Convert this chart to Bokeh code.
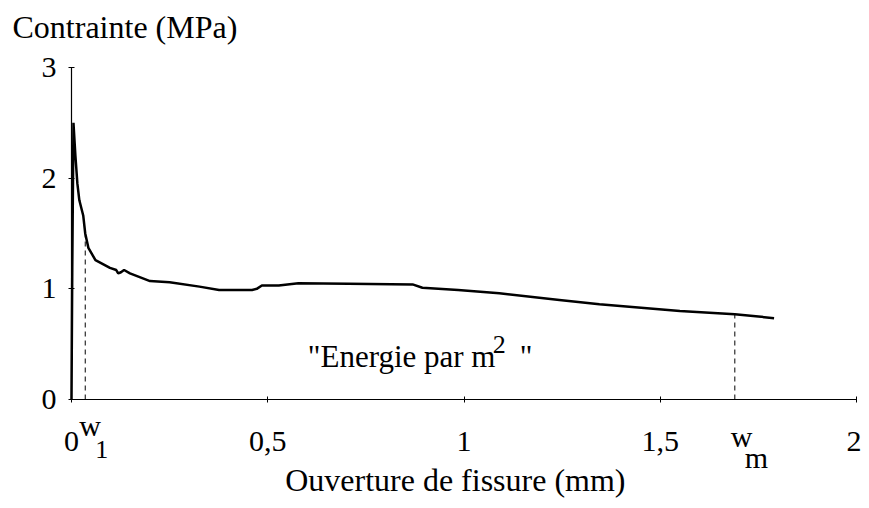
from bokeh.plotting import figure
from bokeh.models import Label, FixedTicker, Range1d
from bokeh.embed import file_html
from bokeh.resources import INLINE

# ---- data ----
ouverture_mm = [0.0, 0.002, 0.005, 0.010, 0.015, 0.020, 0.030, 0.035, 0.043, 0.061,
                0.098, 0.114, 0.119, 0.126, 0.134, 0.149, 0.200, 0.250, 0.326, 0.376,
                0.460, 0.472, 0.485, 0.528, 0.578, 0.705, 0.869, 0.894, 0.985, 1.090,
                1.243, 1.345, 1.550, 1.690, 1.750, 1.790]
contrainte_mpa = [0.0, 1.20, 2.50, 2.20, 1.95, 1.80, 1.66, 1.50, 1.37, 1.26,
                  1.19, 1.17, 1.14, 1.15, 1.17, 1.14, 1.07, 1.06, 1.02, 0.99,
                  0.99, 1.00, 1.03, 1.03, 1.05, 1.045, 1.04, 1.01, 0.99, 0.96,
                  0.90, 0.86, 0.80, 0.77, 0.75, 0.735]

w_marks = [0.035, 1.69]          # w1, wm
w_tops = [1.50, 0.77]
w_names = ["w", "w"]
w_subs = ["1", "m"]

x_ticks = [0, 0.5, 1, 1.5, 2]
x_tick_labels = ["0", "0,5", "1", "1,5", "2"]
y_ticks = [0, 1, 2, 3]
y_tick_labels = ["0", "1", "2", "3"]

FONT = "Liberation Serif"
W, H = 861, 500
# pixel placement of the axes inside the canvas
X0_PX, X2_PX = 71, 856
Y0_PX, Y3_PX = 399, 67
sx = (X2_PX - X0_PX) / 2.0
sy = (Y0_PX - Y3_PX) / 3.0

p = figure(width=W, height=H, output_backend="svg", toolbar_location=None,
           x_range=Range1d(-X0_PX / sx, (W - X0_PX) / sx),
           y_range=Range1d(-(H - Y0_PX) / sy, (Y0_PX) / sy))
p.min_border = 0
p.min_border_left = 0
p.min_border_right = 0
p.min_border_top = 0
p.min_border_bottom = 0
p.outline_line_color = None
p.xgrid.visible = False
p.ygrid.visible = False
p.background_fill_color = "white"
p.border_fill_color = "white"

for ax in (p.xaxis[0], p.yaxis[0]):
    ax.fixed_location = 0
    ax.axis_line_color = "black"
    ax.axis_line_width = 1.2
    ax.major_tick_line_color = "black"
    ax.major_tick_in = 3
    ax.major_tick_out = 3
    ax.minor_tick_line_color = None
    ax.major_label_text_font = FONT
    ax.major_label_text_font_size = "30px"
    ax.major_label_text_color = "black"

p.xaxis.bounds = (x_ticks[0], x_ticks[-1])
p.yaxis.bounds = (y_ticks[0], y_ticks[-1])
p.xaxis.ticker = FixedTicker(ticks=x_ticks)
p.xaxis.major_label_overrides = {t: l for t, l in zip(x_ticks, x_tick_labels)}
p.yaxis.ticker = FixedTicker(ticks=y_ticks)
p.yaxis.major_label_overrides = {t: l for t, l in zip(y_ticks, y_tick_labels)}
p.xaxis.major_label_standoff = 29
p.yaxis.major_label_standoff = 12

# curve
p.line(ouverture_mm, contrainte_mpa, line_color="black", line_width=2.5)

# dashed markers
p.segment(x0=w_marks, y0=[0] * len(w_marks), x1=w_marks, y1=w_tops,
          line_color="black", line_width=1, line_dash="5 4")

BASE_FIX = 11  # Label baseline correction (px, upward)


def txt(x, y, text, dx=0, dy=0, size="31px", align="left"):
    return Label(x=x, y=y, x_offset=dx, y_offset=dy + BASE_FIX, text=text,
                 text_font=FONT, text_font_size=size, text_color="black",
                 text_align=align, text_baseline="alphabetic")


# axis titles
p.add_layout(txt(0, 3, "Contrainte (MPa)", dx=-59, dy=30, size="32px"))
p.add_layout(txt(0.978, 0, "Ouverture de fissure (mm)", dy=-91, size="32px", align="center"))

# w1 / wm labels
w_layout = [(-6, -37, 10, -61, "26px"), (-4, -48, 10, -69, "30px")]
for xm, name, sub, (dx, dy, sdx, sdy, sfs) in zip(w_marks, w_names, w_subs, w_layout):
    p.add_layout(txt(xm, 0, name, dx=dx, dy=dy, size="30px"))
    p.add_layout(txt(xm, 0, sub, dx=sdx, dy=sdy, size=sfs))

# energy annotation
p.add_layout(txt(0.602, 0.289, '"Energie par m'))
p.add_layout(txt(0.602, 0.289, "2", dx=185, dy=12, size="26px"))
p.add_layout(txt(0.602, 0.289, '"', dx=212))

open("out.html", "w").write(file_html(p, INLINE))
